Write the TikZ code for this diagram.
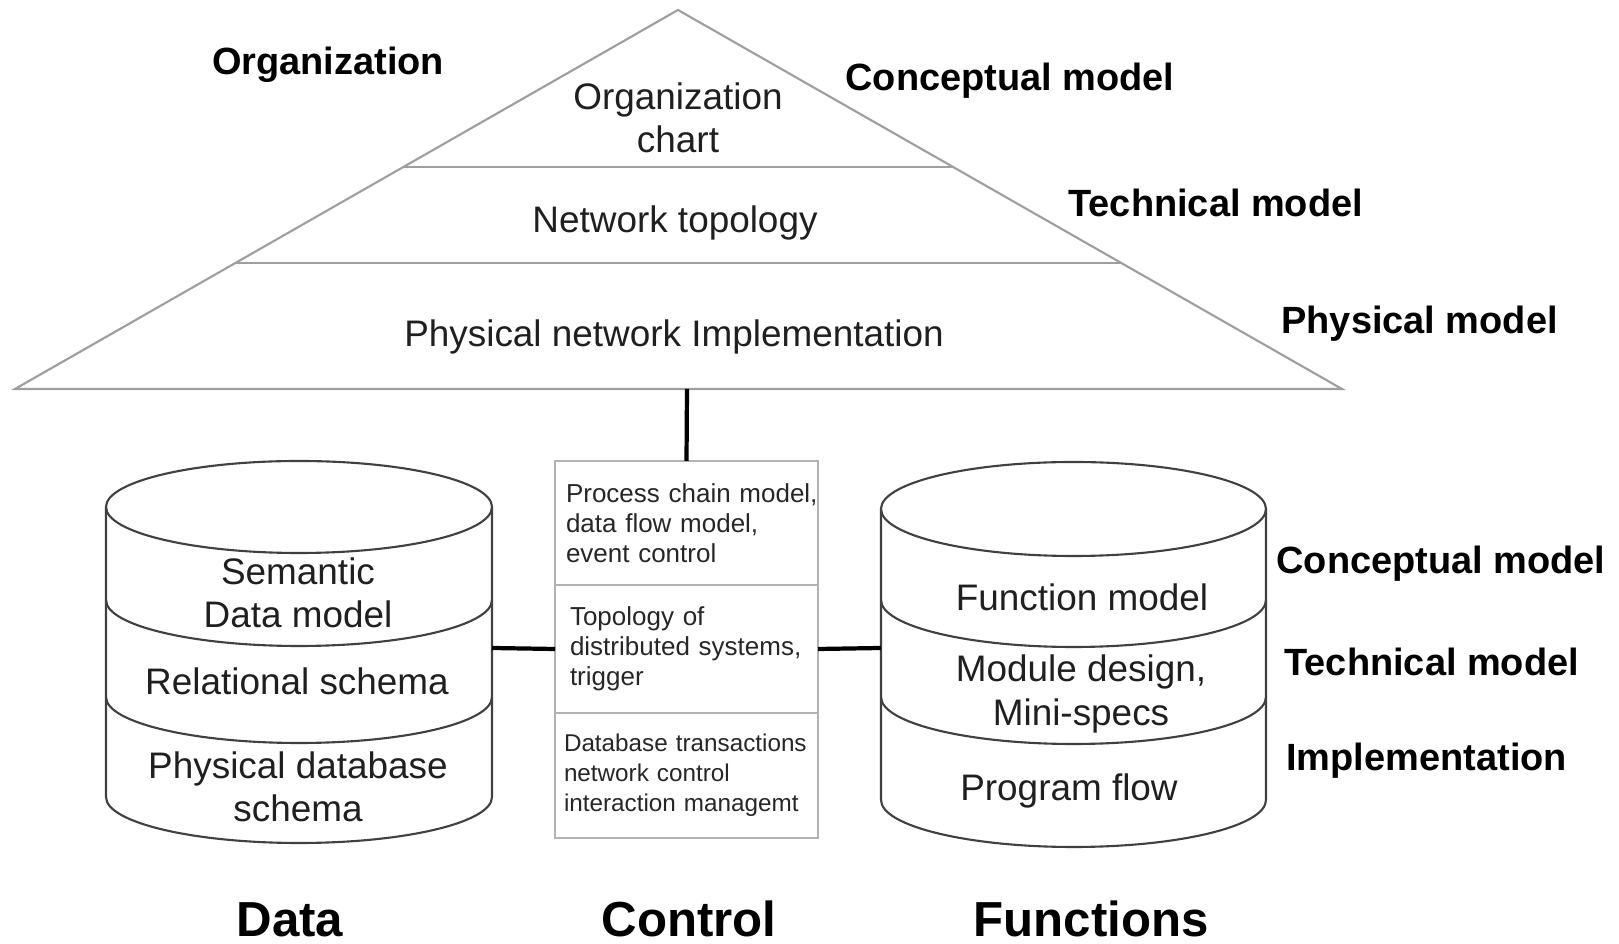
\documentclass[tikz,border=0pt]{standalone}
\usepackage{fontspec}
\setmainfont{Liberation Sans}
\usetikzlibrary{calc}

\begin{document}
\begin{tikzpicture}[
    pyr/.style={draw=black!38, line width=0.6pt},
    drum/.style={draw=black!75, line width=0.6pt},
    link/.style={draw=black, line width=1.2pt},
    layer/.style={font=\fontsize{10.5}{12.3}\selectfont, align=center, text=black!88},
    level/.style={font=\fontsize{10.8}{13}\selectfont\bfseries, anchor=west},
    column/.style={font=\fontsize{14}{16}\selectfont\bfseries, anchor=base},
    ctrlbox/.style={draw=black!30, line width=0.6pt, minimum width=2.63cm,
        inner ysep=0pt, align=left, outer sep=0pt, text=black!85,
        font=\fontsize{7.4}{8.5}\selectfont}
]
\useasboundingbox (0,0) rectangle (16.19,9.44);

\coordinate (apex) at (6.78,9.34);
\coordinate (baseL) at (0.15,5.55);
\coordinate (baseR) at (13.42,5.55);
\coordinate (pyrfoot) at (6.87,5.55);
\draw[pyr] (baseL) -- (apex) -- (baseR) -- cycle;
\draw[pyr] ($(apex)!0.414!(baseL)$) -- ($(apex)!0.414!(baseR)$);
\draw[pyr] ($(apex)!0.6675!(baseL)$) -- ($(apex)!0.6675!(baseR)$);

\node[layer] (orgchart) at (6.78,8.26) {Organization\\chart};
\node[layer] (nettopo) at (6.75,7.21) {Network topology};
\node[layer] (netimpl) at (6.74,6.07) {Physical network Implementation};

\node[font=\fontsize{10.8}{13}\selectfont\bfseries] (orglbl) at (3.28,8.79) {Organization};
\node[level] (pconc) at (8.33,8.63) {Conceptual model};
\node[level] (ptech) at (10.56,7.41) {Technical model};
\node[level] (pphys) at (12.69,6.20) {Physical model};

\draw[drum] (2.99,4.37) ellipse (1.93 and 0.46);
\draw[drum] (1.06,4.37) -- (1.06,1.47) arc (180:360:1.93 and 0.46) -- (4.92,4.37);
\foreach \y in {3.44,2.47}
    \draw[drum] (1.06,\y) arc (180:360:1.93 and 0.46);
\coordinate (dataR) at (4.92,2.96);

\node[layer] (semdm) at (2.98,3.51) {Semantic\\Data model};
\node[layer] (relsch) at (2.97,2.63) {Relational schema};
\node[layer] (physdb) at (2.98,1.57) {Physical database\\schema};

\draw[drum] (10.735,4.35) ellipse (1.925 and 0.47);
\draw[drum] (8.81,4.35) -- (8.81,1.44) arc (180:360:1.925 and 0.47) -- (12.66,4.35);
\foreach \y in {3.44,2.47}
    \draw[drum] (8.81,\y) arc (180:360:1.925 and 0.47);
\coordinate (funcL) at (8.81,2.96);

\node[layer] (funcmod) at (10.82,3.47) {Function model};
\node[layer] (moddes) at (10.81,2.50) {Module design,\\Mini-specs};
\node[layer] (progfl) at (10.69,1.53) {Program flow};

\node[level] (fconc) at (12.64,3.80) {Conceptual model};
\node[level] (ftech) at (12.72,2.82) {Technical model};
\node[level] (fimpl) at (12.74,1.83) {Implementation};

\node[ctrlbox, minimum height=1.24cm, inner xsep=0.11cm, text width=2.41cm] (ctrlA) at (6.865,4.21)
    {\mbox{Process chain model,}\\data flow model,\\event control};
\node[ctrlbox, minimum height=1.28cm, inner xsep=0.15cm, text width=2.33cm] (ctrlB) at (6.865,2.95)
    {Topology of\\distributed systems,\\trigger};
\node[ctrlbox, minimum height=1.25cm, inner xsep=0.09cm, text width=2.45cm,
    font=\fontsize{6.9}{8.5}\selectfont] (ctrlC) at (6.865,1.685)
    {Database transactions\\network control\\interaction managemt};

\draw[link] (pyrfoot) -- (ctrlA.north);
\draw[link] (dataR) -- (ctrlB.west);
\draw[link] (ctrlB.east) -- (funcL);

\node[column] (datalbl) at (2.90,0.07) {Data};
\node[column] (ctrllbl) at (6.89,0.07) {Control};
\node[column] (funclbl) at (10.91,0.07) {Functions};
\end{tikzpicture}
\end{document}
